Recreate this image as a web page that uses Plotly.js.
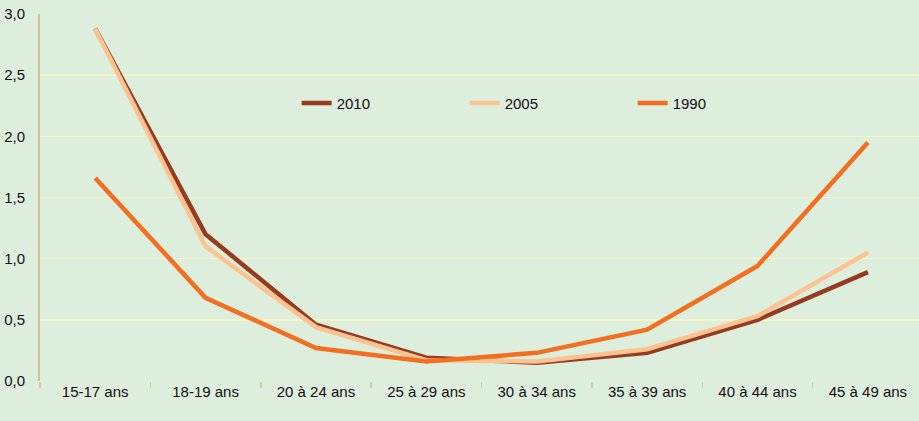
<!DOCTYPE html>
<html>
<head>
<meta charset="utf-8">
<script src="https://cdn.plot.ly/plotly-3.0.1.min.js"></script>
<style>html,body{margin:0;padding:0;background:#deeedc;}#chart{width:919px;height:421px;}</style>
</head>
<body>
<div id="chart"></div>
<script>
const categories = ["15-17 ans","18-19 ans","20 à 24 ans","25 à 29 ans","30 à 34 ans","35 à 39 ans","40 à 44 ans","45 à 49 ans"];
const seriesNames = ["2010","2005","1990"];
const values2010 = [2.88, 1.20, 0.46, 0.19, 0.15, 0.23, 0.50, 0.89];
const values2005 = [2.88, 1.10, 0.44, 0.17, 0.16, 0.26, 0.53, 1.05];
const values1990 = [1.66, 0.68, 0.27, 0.16, 0.23, 0.42, 0.94, 1.95];
const yTickVals = [0, 0.5, 1, 1.5, 2, 2.5, 3];
const yTickText = ["0,0","0,5","1,0","1,5","2,0","2,5","3,0"];

const colors = ["#983a20", "#fbc391", "#f26e21"];
const allValues = [values2010, values2005, values1990];
const font = "Liberation Sans, Arial, sans-serif";

const traces = seriesNames.map((n, i) => ({
  type: "scatter", mode: "lines", name: n,
  x: categories, y: allValues[i],
  line: {color: colors[i], width: 4.5},
  hoverinfo: "skip"
}));

const layout = {
  width: 919, height: 421,
  margin: {l: 40, r: 0, t: 14, b: 40},
  paper_bgcolor: "#deeedc", plot_bgcolor: "#deeedc",
  font: {family: font, size: 15, color: "#111111"},
  showlegend: true,
  legend: {orientation: "h", x: 0.292, y: 0.757, xanchor: "left", yanchor: "middle",
           bgcolor: "rgba(0,0,0,0)", entrywidth: 123, entrywidthmode: "pixels",
           font: {family: font, size: 15, color: "#111111"}},
  xaxis: {type: "category", range: [-0.5, 7.463], tickson: "boundaries",
          ticks: "outside", ticklen: 6, tickcolor: "#cfcb9e", tickwidth: 1.5,
          showgrid: false, zeroline: false, showline: false,
          tickfont: {family: font, size: 15}, fixedrange: true},
  yaxis: {range: [0, 3], tickvals: yTickVals, ticktext: yTickText,
          showgrid: true, gridcolor: "#f7f5c6", gridwidth: 1.5,
          zeroline: false, showline: true, linecolor: "#c9c59b", linewidth: 2,
          ticks: "", ticklabelstandoff: 10,
          tickfont: {family: font, size: 15}, fixedrange: true}
};

Plotly.newPlot("chart", traces, layout, {displayModeBar: false, staticPlot: true});
</script>
</body>
</html>
